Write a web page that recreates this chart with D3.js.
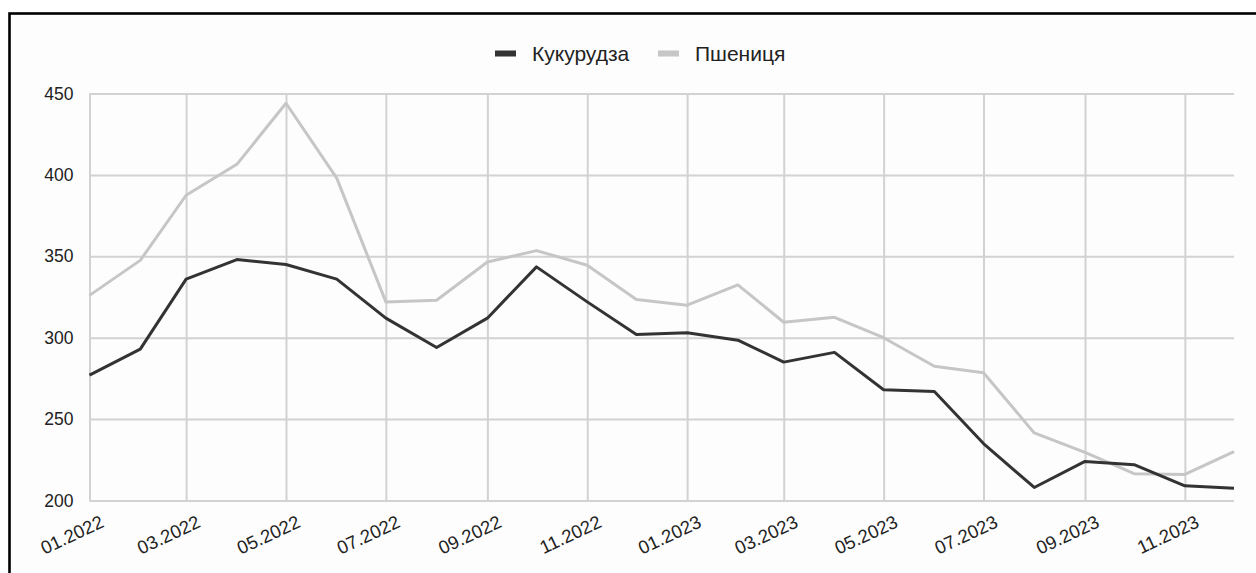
<!DOCTYPE html>
<html>
<head>
<meta charset="utf-8">
<script src="https://cdn.jsdelivr.net/npm/d3@7"></script>
<style>
  html, body { margin: 0; padding: 0; background: #fff; }
  svg { display: block; font-family: "Liberation Sans", Arial, sans-serif; }
</style>
</head>
<body>
<div id="chart"></div>
<script>
const months = [
  '01.2022', '02.2022', '03.2022', '04.2022', '05.2022', '06.2022',
  '07.2022', '08.2022', '09.2022', '10.2022', '11.2022', '12.2022',
  '01.2023', '02.2023', '03.2023', '04.2023', '05.2023', '06.2023',
  '07.2023', '08.2023', '09.2023', '10.2023', '11.2023', '12.2023'
];
const corn = [277, 293, 336, 348, 345, 336, 312, 294, 312, 343.5, 322, 302,
  303, 298.5, 285, 291, 268, 267, 235, 208, 224, 222, 209, 207.5];
const wheat = [326, 347.5, 387.5, 406.5, 444, 398, 322, 323, 346.5, 353.5, 344.5, 323.5,
  320, 332.5, 309.5, 312.5, 300, 282.5, 278.5, 241.5, 229.5, 216.5, 216, 230];
const tickLabels = ['01.2022', '03.2022', '05.2022', '07.2022', '09.2022', '11.2022',
  '01.2023', '03.2023', '05.2023', '07.2023', '09.2023', '11.2023'];
const yTicks = [200, 250, 300, 350, 400, 450];
const seriesNames = ['Кукурудза', 'Пшениця'];

const colors = { 'Кукурудза': '#333333', 'Пшениця': '#c6c6c6' };

const width = 1256;
const height = 573;
const parse = d3.timeParse('%m.%Y');
const fmt = d3.timeFormat('%m.%Y');

const svg = d3.select('#chart')
  .append('svg')
  .attr('width', width)
  .attr('height', height);

// frame, cut off on the right and bottom
svg.append('rect')
  .attr('x', 9.5)
  .attr('y', 13.5)
  .attr('width', 1400)
  .attr('height', 700)
  .attr('fill', '#fdfdfd')
  .attr('stroke', '#000')
  .attr('stroke-width', 2.6);

const x = d3.scaleTime()
  .domain([parse(months[0]), parse(months[months.length - 1])])
  .range([89.5, 1234]);

const y = d3.scaleLinear()
  .domain([200, 450])
  .range([500.5, 93.5]);

// horizontal grid
svg.append('g')
  .attr('class', 'y-grid')
  .attr('transform', 'translate(89.5,0)')
  .call(d3.axisLeft(y).tickValues(yTicks).tickSize(-(1234 - 89.5)).tickFormat(''))
  .call(g => g.select('.domain').remove())
  .call(g => g.selectAll('line').attr('stroke', '#d2d2d2').attr('stroke-width', 2));

// vertical grid
svg.append('g')
  .attr('class', 'x-grid')
  .attr('transform', 'translate(0,93.5)')
  .call(d3.axisTop(x).tickValues(tickLabels.map(parse)).tickSize(-(500.5 - 93.5)).tickFormat(''))
  .call(g => g.select('.domain').remove())
  .call(g => g.selectAll('line').attr('stroke', '#d2d2d2').attr('stroke-width', 2));

// y labels
svg.append('g')
  .attr('class', 'y-axis')
  .attr('transform', 'translate(89.5,0)')
  .call(d3.axisLeft(y).tickValues(yTicks).tickSize(0).tickPadding(16))
  .call(g => g.select('.domain').remove())
  .call(g => g.selectAll('text')
    .attr('font-size', 17.5)
    .attr('font-family', '"Liberation Sans", Arial, sans-serif')
    .attr('fill', '#222'));

// x labels, slanted
svg.append('g')
  .attr('class', 'x-axis')
  .attr('transform', 'translate(0,500.5)')
  .call(d3.axisBottom(x).tickValues(tickLabels.map(parse)).tickSize(0).tickFormat(fmt))
  .call(g => g.select('.domain').remove())
  .call(g => g.selectAll('text')
    .attr('font-size', 18.5)
    .attr('font-family', '"Liberation Sans", Arial, sans-serif')
    .attr('fill', '#222')
    .attr('text-anchor', 'end')
    .attr('dy', 0)
    .attr('y', 0)
    .attr('transform', 'translate(15,26) rotate(-25)'));

const line = d3.line()
  .x((d, i) => x(parse(months[i])))
  .y(d => y(d));

svg.append('path')
  .datum(wheat)
  .attr('fill', 'none')
  .attr('stroke', colors['Пшениця'])
  .attr('stroke-width', 3)
  .attr('stroke-linejoin', 'round')
  .attr('d', line);

svg.append('path')
  .datum(corn)
  .attr('fill', 'none')
  .attr('stroke', colors['Кукурудза'])
  .attr('stroke-width', 3)
  .attr('stroke-linejoin', 'round')
  .attr('d', line);

// legend
const legendX = [495, 658];
const legend = svg.append('g').attr('class', 'legend');
seriesNames.forEach((name, i) => {
  legend.append('rect')
    .attr('x', legendX[i])
    .attr('y', 50.5)
    .attr('width', 21)
    .attr('height', 6)
    .attr('fill', colors[name]);
  legend.append('text')
    .attr('x', legendX[i] + 37)
    .attr('y', 61)
    .attr('font-size', 21)
    .attr('fill', '#222')
    .text(name);
});
</script>
</body>
</html>
